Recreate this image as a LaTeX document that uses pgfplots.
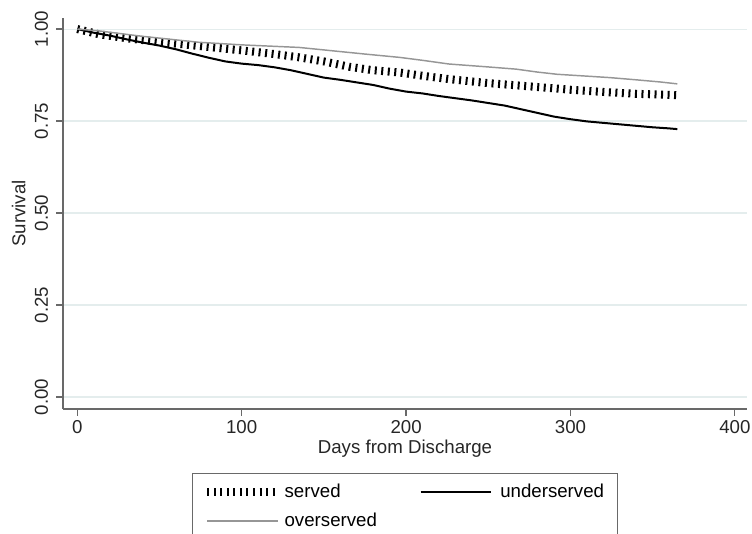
\documentclass[border=0pt]{standalone}
\usepackage{pgfplots}
\pgfplotsset{compat=1.18}
\usepackage{fontspec}
\setmainfont{Liberation Sans}
\definecolor{gridc}{RGB}{228,237,237}
\definecolor{axc}{RGB}{105,105,105}
\definecolor{overc}{RGB}{150,150,150}
\begin{document}
\begin{tikzpicture}
\useasboundingbox (-47.25pt,-93pt) rectangle (516.75pt,306.75pt);
\begin{axis}[
  name=ax, at={(0,0)}, anchor=south west,
  scale only axis, width=513pt, height=293.25pt,
  xmin=-8.7, xmax=407.4, ymin=-0.0326, ymax=1.03,
  axis x line*=bottom, axis y line*=left,
  axis line style={axc, line width=0.9pt},
  tick style={axc, line width=0.9pt},
  tick align=outside, major tick length=5pt,
  xtick={0,100,200,300,400},
  ytick={0,0.25,0.5,0.75,1},
  yticklabels={0.00,0.25,0.50,0.75,1.00},
  /pgf/number format/assume math mode=true,
  ymajorgrids, grid style={gridc, line width=0.8pt},
  ticklabel style={font=\fontsize{14}{16}\selectfont, text=black!85},
  yticklabel style={rotate=90, anchor=south, inner sep=6pt},
  label style={font=\fontsize{14}{16}\selectfont, text=black!85},
  xlabel={Days from Discharge},
  ylabel={Survival},
  ylabel style={yshift=-2.5pt},
  xlabel style={yshift=2pt},
  legend columns=2,
  legend cell align=left,
  legend style={at={(axis description cs:0.5,-0.1637)}, anchor=north,
    draw=axc, line width=0.75pt, font=\fontsize{14}{16}\selectfont,
    inner xsep=8pt, inner ysep=6pt,
    /tikz/every even column/.append style={column sep=30pt},
    row sep=6pt},
  legend image code/.code={\draw[#1] (0pt,0pt) -- (53pt,0pt);},
]
\addplot[black, line width=6pt, dash pattern=on 1.5pt off 3.4pt] coordinates {
(0,1.0) (13,0.986) (30,0.975) (50,0.965) (74,0.954) (100,0.942) (120,0.932)
(135,0.923) (150,0.912) (166,0.897) (180,0.888) (196,0.882) (210,0.873)
(226,0.864) (250,0.853) (270,0.846) (287,0.840) (300,0.835) (320,0.829)
(340,0.824) (360,0.821) (365,0.820)};
\addlegendentry{served}
\addplot[black, line width=1.5pt] coordinates {
(0,1.0) (5,0.995) (10,0.99) (20,0.982) (30,0.972) (40,0.963) (50,0.955)
(60,0.945) (70,0.933) (80,0.922) (90,0.912) (100,0.906) (110,0.902)
(120,0.896) (130,0.888) (140,0.878) (150,0.868) (160,0.862) (170,0.855)
(180,0.848) (190,0.838) (200,0.830) (210,0.825) (220,0.818) (230,0.812)
(240,0.806) (250,0.799) (260,0.792) (270,0.782) (280,0.772) (290,0.762)
(300,0.755) (310,0.749) (320,0.745) (330,0.741) (340,0.737) (350,0.733)
(360,0.730) (365,0.728)};
\addlegendentry{\hspace{4pt}underserved}
\addplot[overc, line width=1.1pt] coordinates {
(0,1.0) (13,0.995) (40,0.98) (74,0.964) (100,0.957) (135,0.95) (155,0.941)
(175,0.932) (196,0.923) (210,0.915) (226,0.905) (250,0.897) (267,0.891)
(280,0.883) (292,0.877) (310,0.872) (324,0.868) (340,0.862) (355,0.856)
(365,0.851)};
\addlegendentry{overserved}
\end{axis}
\end{tikzpicture}
\end{document}
